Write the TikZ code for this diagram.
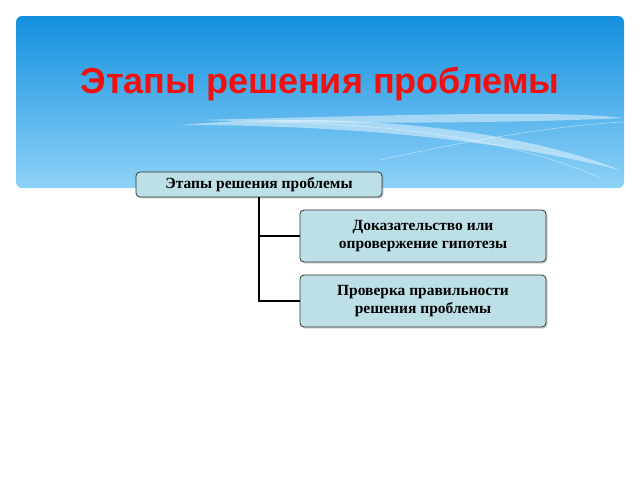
\documentclass[tikz,border=0pt]{standalone}
\usepackage{fontspec}
\setmainfont{Liberation Serif}
\newfontfamily\titlefont{Liberation Sans}
\usetikzlibrary{positioning,shadows}
\definecolor{skytop}{HTML}{1490DE}
\definecolor{skybot}{HTML}{8ED2F8}
\definecolor{boxfill}{HTML}{BCE0E6}
\definecolor{titlered}{HTML}{F01010}
\tikzset{stagebox/.style={draw=black!80, fill=boxfill, rounded corners=4pt, line width=0.8pt,
    drop shadow={shadow xshift=1.5pt, shadow yshift=-1.5pt, opacity=0.35},
    font=\bfseries\fontsize{15.5}{18.5}\selectfont, align=center, inner sep=0pt},
  link/.style={line width=1.6pt, black}}
\begin{document}
\begin{tikzpicture}[x=1pt, y=-1pt]
\useasboundingbox (0,0) rectangle (640,480);
\fill[white] (0,0) rectangle (640,480);
% banner
\shade[top color=skytop, bottom color=skybot, rounded corners=6pt] (16,16) rectangle (624,188);
\begin{scope}[white, opacity=0.45]
\fill (180,125) .. controls (350,110) and (520,130) .. (620,170) .. controls (500,140) and (350,125) .. (180,125);
\fill (200,120) .. controls (400,115) and (560,110) .. (624,118) .. controls (540,122) and (380,125) .. (200,120);
\draw[line width=0.6pt] (230,122) .. controls (420,120) and (540,150) .. (600,178);
\draw[line width=0.6pt] (380,160) .. controls (470,140) and (560,125) .. (624,122);
\end{scope}
\node[font=\titlefont\bfseries\fontsize{36}{40}\selectfont, text=titlered] (title) at (320,84) {Этапы решения проблемы};
% diagram
\node[stagebox, minimum width=246pt, minimum height=25pt] (root) at (259,184.5) {Этапы решения проблемы};
\node[stagebox, minimum width=246pt, minimum height=52pt] (proof) at (423,236) {Доказательство или\\опровержение гипотезы};
\node[stagebox, minimum width=246pt, minimum height=52pt] (check) at (423,301) {Проверка правильности\\решения проблемы};
\draw[link] (root.south) |- (proof.west);
\draw[link] (root.south) |- (check.west);
\end{tikzpicture}
\end{document}
